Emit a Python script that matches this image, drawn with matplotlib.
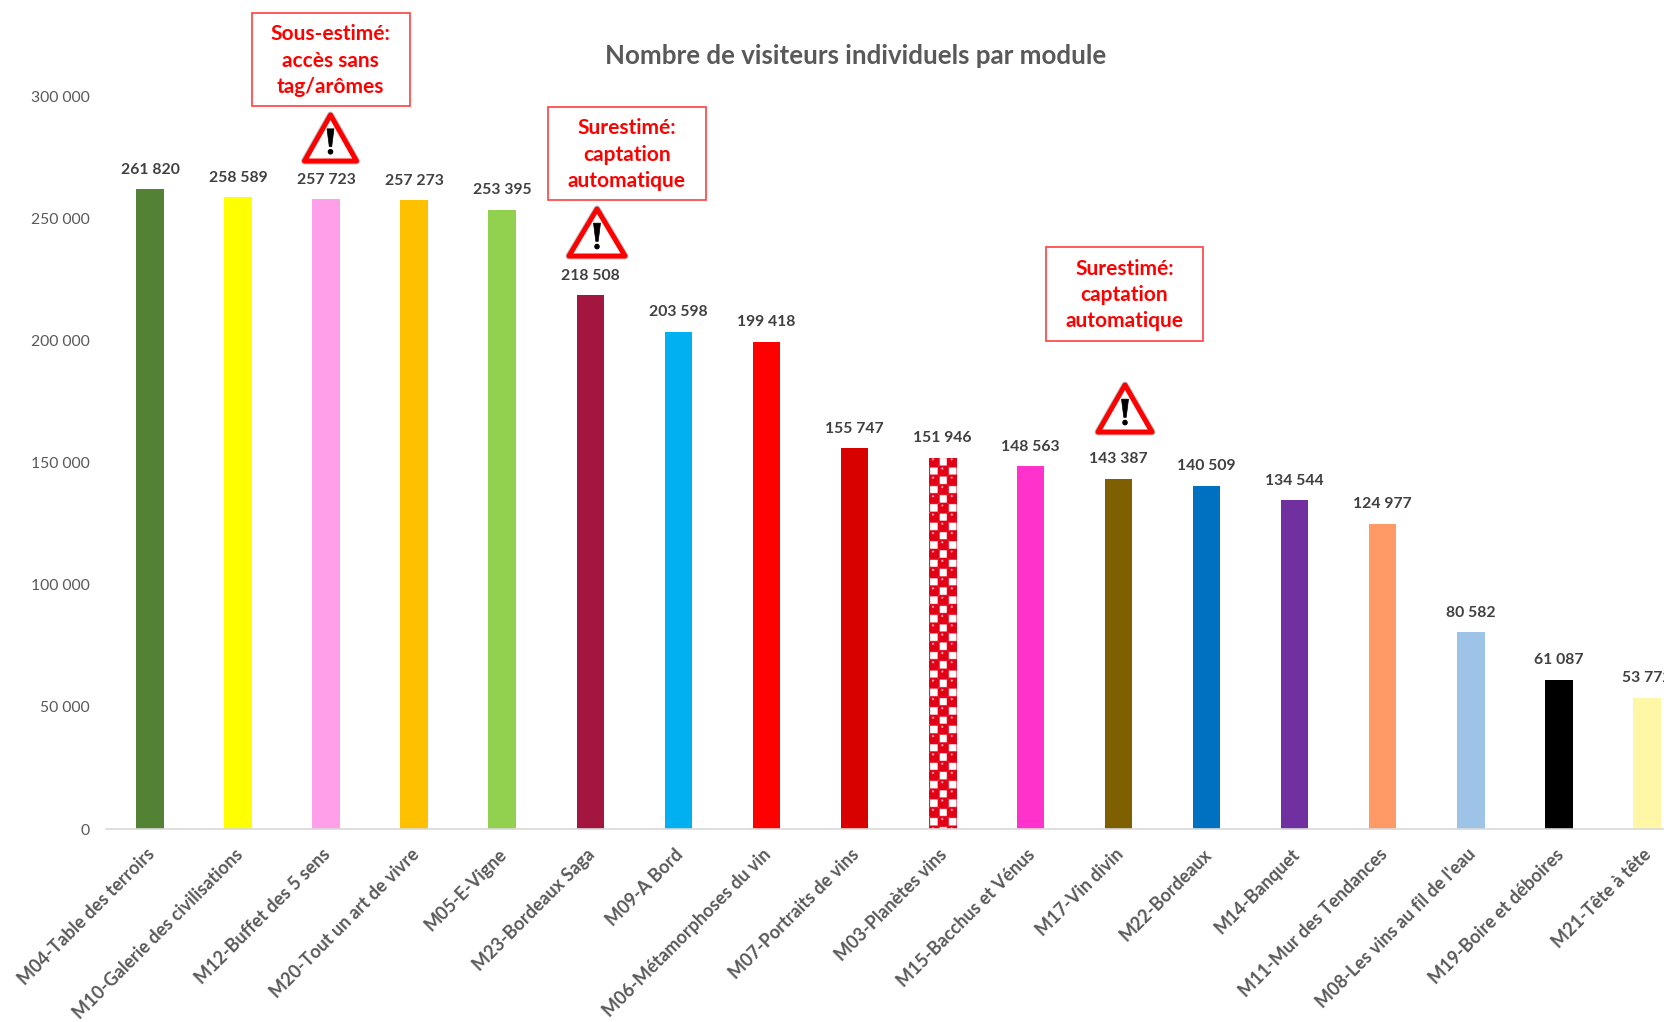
import numpy as np
import matplotlib
matplotlib.use("Agg")
import matplotlib.pyplot as plt
from matplotlib.patches import Rectangle, Polygon, Circle
from matplotlib.transforms import Affine2D, ScaledTranslation

categories = ["M04-Table des terroirs", "M10-Galerie des civilisations", "M12-Buffet des 5 sens",
              "M20-Tout un art de vivre", "M05-E-Vigne", "M23-Bordeaux Saga", "M09-A Bord",
              "M06-Métamorphoses du vin", "M07-Portraits de vins", "M03-Planètes vins",
              "M15-Bacchus et Vénus", "M17-Vin divin", "M22-Bordeaux", "M14-Banquet",
              "M11-Mur des Tendances", "M08-Les vins au fil de l'eau", "M19-Boire et déboires",
              "M21-Tête à tête"]
values = [261820, 258589, 257723, 257273, 253395, 218508, 203598, 199418, 155747,
          151946, 148563, 143387, 140509, 134544, 124977, 80582, 61087, 53772]
colors = ["#548235", "#FFFF00", "#FF9FE9", "#FFC000", "#92D050", "#A31640", "#00B0F0", "#FF0000",
          "#D90000", "#FFFFFF", "#FF33CC", "#7F6000", "#0070C0", "#7030A0", "#FF9966", "#9DC3E6",
          "#000000", "#FFF7A6"]
yticks = [0, 50000, 100000, 150000, 200000, 250000, 300000]
ytick_labels = ["0", "50 000", "100 000", "150 000", "200 000", "250 000", "300 000"]
title = "Nombre de visiteurs individuels par module"
notes = ["Sous-estimé:\naccès sans\ntag/arômes", "Surestimé:\ncaptation\nautomatique", "Surestimé:\ncaptation\nautomatique"]
pattern_index = 9

plt.rcParams["font.family"] = ["Lato", "DejaVu Sans"]
W, H = 1665, 1022
fig = plt.figure(figsize=(W / 100, H / 100), dpi=100, facecolor="white")
px = Affine2D().scale(1, -1).translate(0, H)

left, right, bottom, top = 106, 1665, 829, 96
ax = fig.add_axes([left / W, 1 - bottom / H, (right - left) / W, (bottom - top) / H])
spacing = 88.05
x = np.arange(len(values))
bars = ax.bar(x, values, width=0.312, color=colors, linewidth=0)

# checker-pattern fill of the M03 bar
bar = bars[pattern_index]
h_px, w_px = int(values[pattern_index] * (bottom - top) / 300000) * 2, 55
yy, xx = np.mgrid[0:h_px, 0:w_px]
cell = 18.4
cx, cy = xx / cell, yy / cell
fx, fy = cx % 1 - 0.5, cy % 1 - 0.5
is_red_cell = (np.floor(cx) + np.floor(cy)) % 2 == 0
red = is_red_cell & (fx ** 2 + fy ** 2 < 0.46)
red |= ~is_red_cell & ((np.abs(fx) > 0.40) | (np.abs(fy) > 0.40))
red &= ~((np.abs(fx) > 0.47) & (np.abs(fy) > 0.47))
img = np.ones((h_px, w_px, 3))
img[red] = [0.89, 0.0, 0.09]
spot = is_red_cell & ((fx + 0.1) ** 2 + (fy + 0.28) ** 2 < 0.012)
img[spot] = [1.0, 0.78, 0.78]
im = ax.imshow(img, extent=(x[pattern_index] - 0.156, x[pattern_index] + 0.156, 0, values[pattern_index]),
               aspect="auto", interpolation="bilinear", zorder=2)
im.set_clip_path(bar)
ax.set_xlim(-0.5, -0.5 + (right - left) / spacing)
ax.set_ylim(0, 300000)

for xi, v in zip(x, values):
    ax.annotate(f"{v:,}".replace(",", " "), (xi, v), xytext=(0, 14), textcoords="offset points",
                ha="center", va="center", fontsize=11.3, fontweight="bold", color="#404040",
                annotation_clip=False)

for s in ["top", "right", "left"]:
    ax.spines[s].set_visible(False)
ax.spines["bottom"].set_color("#D9D9D9")
ax.spines["bottom"].set_linewidth(1.2)
ax.set_yticks(yticks, ytick_labels, fontsize=11.3, color="#595959")
ax.tick_params(axis="y", length=0, pad=12)
ax.set_xticks(x, categories, rotation=45, ha="right", va="top", rotation_mode="anchor",
              fontsize=13, fontweight="bold", color="#595959")
ax.tick_params(axis="x", length=0, pad=12)
shift = ScaledTranslation(-4 / 100, 0, fig.dpi_scale_trans)
for lab in ax.get_xticklabels():
    lab.set_transform(lab.get_transform() + shift)

fig.text(856 / W, 1 - 56.5 / H, title, ha="center", va="center", fontsize=18.6, fontweight="bold", color="#595959")

boxes = [(251.5, 13, 158, 93), (548, 107, 158, 93), (1046, 247, 157, 94)]
for (bx, by, bw, bh), note in zip(boxes, notes):
    fig.add_artist(Rectangle((bx, by), bw, bh, transform=px, fc="white", ec="#FF4040", lw=1.2, zorder=5))
    fig.add_artist(plt.Text(bx + bw / 2, by + bh / 2 + 1, note, transform=px, ha="center", va="center",
                            fontsize=15, fontweight="bold", color="#FF0000", linespacing=1.38, zorder=6))

triangles = [(330.5, 112, 163, 26), (597, 206, 258, 28), (1125, 382, 434, 27)]
for tx, ty, tb, hw in triangles:
    tri = [(tx, ty + 3), (tx - hw, tb - 2), (tx + hw, tb - 2)]
    fig.add_artist(Polygon(tri, closed=True, transform=px, fc="white", ec="#C0C0C0", lw=5, joinstyle="round", zorder=5))
    fig.add_artist(Polygon(tri, closed=True, transform=px, fc="white", ec="#FF0000", lw=3.6, joinstyle="round", zorder=5.1))
    hgt = tb - ty
    fig.add_artist(Polygon([(tx - 3.5, ty + 0.33 * hgt), (tx + 3.5, ty + 0.33 * hgt), (tx + 1.2, ty + 0.68 * hgt), (tx - 1.2, ty + 0.68 * hgt)],
                           closed=True, transform=px, fc="black", ec="black", lw=0.5, joinstyle="round", zorder=5.2))
    fig.add_artist(Circle((tx, ty + 0.78 * hgt), 2.8, transform=px, fc="black", ec="none", zorder=5.2))

fig.savefig("out.png", dpi=100, facecolor="white")
